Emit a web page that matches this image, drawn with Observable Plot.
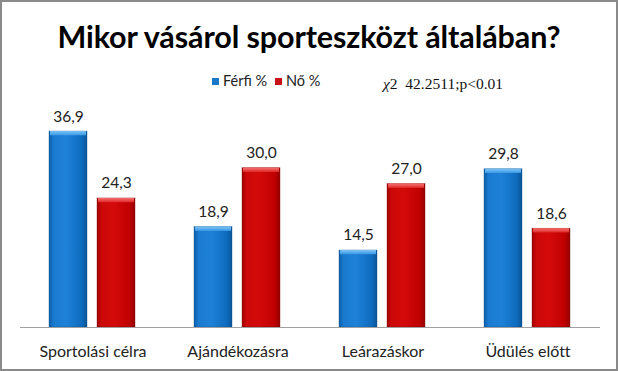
<!DOCTYPE html>
<html>
<head>
<meta charset="utf-8">
<script src="https://cdn.jsdelivr.net/npm/d3@7"></script>
<script src="https://cdn.jsdelivr.net/npm/@observablehq/plot@0.6"></script>
<style>
  html, body { margin: 0; padding: 0; background: #fff; }
  #frame { position: relative; width: 618px; height: 371px; box-sizing: border-box;
           border: 2px solid #8a8a8a; background: #fff; overflow: hidden; font-family: Lato, sans-serif;
           font-variant-ligatures: none; }
  #title { position: absolute; left: 0; width: 614px; top: 19px; text-align: center;
           font: bold 30.5px/30px Lato, sans-serif; color: #000; white-space: nowrap; letter-spacing: -0.1px; }
  .leg { position: absolute; top: 72px; font: 14.5px/14px Lato, sans-serif; color: #222; white-space: nowrap; }
  .sw { display: inline-block; width: 7px; height: 7px; margin-right: 4px; vertical-align: 1px; }
  #chi { position: absolute; left: 381px; top: 74px; font: 15.5px/16px "Liberation Serif", "Times New Roman", serif; color: #111; white-space: pre; }
  #plot { position: absolute; left: 0; top: 0; }
</style>
</head>
<body>
<div id="frame">
  <div id="plot"></div>
  <div id="title"></div>
  <div id="legend"></div>
  <div id="chi"></div>
</div>
<script>
const categories = ["Sportolási célra", "Ajándékozásra", "Leárazáskor", "Üdülés előtt"];
const seriesNames = ["Férfi %", "Nő %"];
const ferfi = [36.9, 18.9, 14.5, 29.8];
const no = [24.3, 30.0, 27.0, 18.6];
const chiSymbol = "χ";
const chiRest = "2  42.2511;p<0.01";
const titleText = "Mikor vásárol sporteszközt általában?";

const data = [];
categories.forEach((c, i) => {
  data.push({category: c, series: seriesNames[0], value: ferfi[i]});
  data.push({category: c, series: seriesNames[1], value: no[i]});
});

document.getElementById("title").textContent = titleText;
const chi = document.getElementById("chi");
const ci = document.createElement("i");
ci.textContent = chiSymbol;
chi.appendChild(ci);
chi.appendChild(document.createTextNode(chiRest));

const legendColors = ["#1a78c8", "#c81414"];
const leg = document.getElementById("legend");
const legLeft = [212, 275];
seriesNames.forEach((s, i) => {
  const d = document.createElement("div");
  d.className = "leg";
  d.style.left = (legLeft[i] - 2) + "px";
  d.innerHTML = `<span class="sw" style="background:${legendColors[i]}"></span>` + s;
  leg.appendChild(d);
});

const fmt = v => v.toFixed(1).replace(".", ",");

const chart = Plot.plot({
  width: 614,
  height: 367,
  marginLeft: 18,
  marginRight: 16,
  marginBottom: 42,
  marginTop: 112.6,
  style: {background: "transparent", fontFamily: "Lato, sans-serif", fontSize: "15px", color: "#222", overflow: "visible", fontVariantLigatures: "none"},
  fx: {domain: categories, padding: 0, label: null, tickSize: 0},
  x: {domain: seriesNames, paddingInner: 0.206, paddingOuter: 0.598, axis: null},
  y: {domain: [0, 40], axis: null},
  color: {domain: seriesNames, range: ["url(#gBlue)", "url(#gRed)"]},
  marks: [
    Plot.axisFx({anchor: "bottom", tickSize: 0, tickPadding: 18, fontSize: 16, label: null, fill: "#222"}),
    Plot.barY(data, {fx: "category", x: "series", y: "value", fill: "series", stroke: d => d.series === seriesNames[0] ? "#0b4f8a" : "#7a0000", strokeWidth: 0.6, strokeOpacity: 0.6}),
    Plot.barY(data, {fx: "category", x: "series", y1: d => d.value - 0.8, y2: "value", fill: d => d.series === seriesNames[0] ? "url(#gBlueTop)" : "url(#gRedTop)", insetLeft: 1, insetRight: 1}),
    Plot.ruleY([0], {stroke: "#a0a0a0", strokeWidth: 1}),
    Plot.text(data, {fx: "category", x: "series", y: "value", text: d => fmt(d.value), dy: -15, fontSize: 15.5, fill: "#222"})
  ]
});

const ns = "http://www.w3.org/2000/svg";
const defs = document.createElementNS(ns, "defs");
defs.innerHTML = `
  <linearGradient id="gBlue" x1="0" x2="1" y1="0" y2="0">
    <stop offset="0" stop-color="#0a5ea8"/>
    <stop offset="0.12" stop-color="#1a7ad0"/>
    <stop offset="0.45" stop-color="#1e82d8"/>
    <stop offset="0.85" stop-color="#0f6cbf"/>
    <stop offset="1" stop-color="#0a5598"/>
  </linearGradient>
  <linearGradient id="gRed" x1="0" x2="1" y1="0" y2="0">
    <stop offset="0" stop-color="#a00000"/>
    <stop offset="0.12" stop-color="#cc0808"/>
    <stop offset="0.45" stop-color="#d40a0a"/>
    <stop offset="0.85" stop-color="#c00000"/>
    <stop offset="1" stop-color="#960000"/>
  </linearGradient>
  <linearGradient id="gBlueTop" x1="0" x2="0" y1="0" y2="1">
    <stop offset="0" stop-color="#7cc4f6"/>
    <stop offset="1" stop-color="#3a98e4"/>
  </linearGradient>
  <linearGradient id="gRedTop" x1="0" x2="0" y1="0" y2="1">
    <stop offset="0" stop-color="#f47070"/>
    <stop offset="1" stop-color="#e02a2a"/>
  </linearGradient>`;
chart.insertBefore(defs, chart.firstChild);
document.getElementById("plot").appendChild(chart);
</script>
</body>
</html>
